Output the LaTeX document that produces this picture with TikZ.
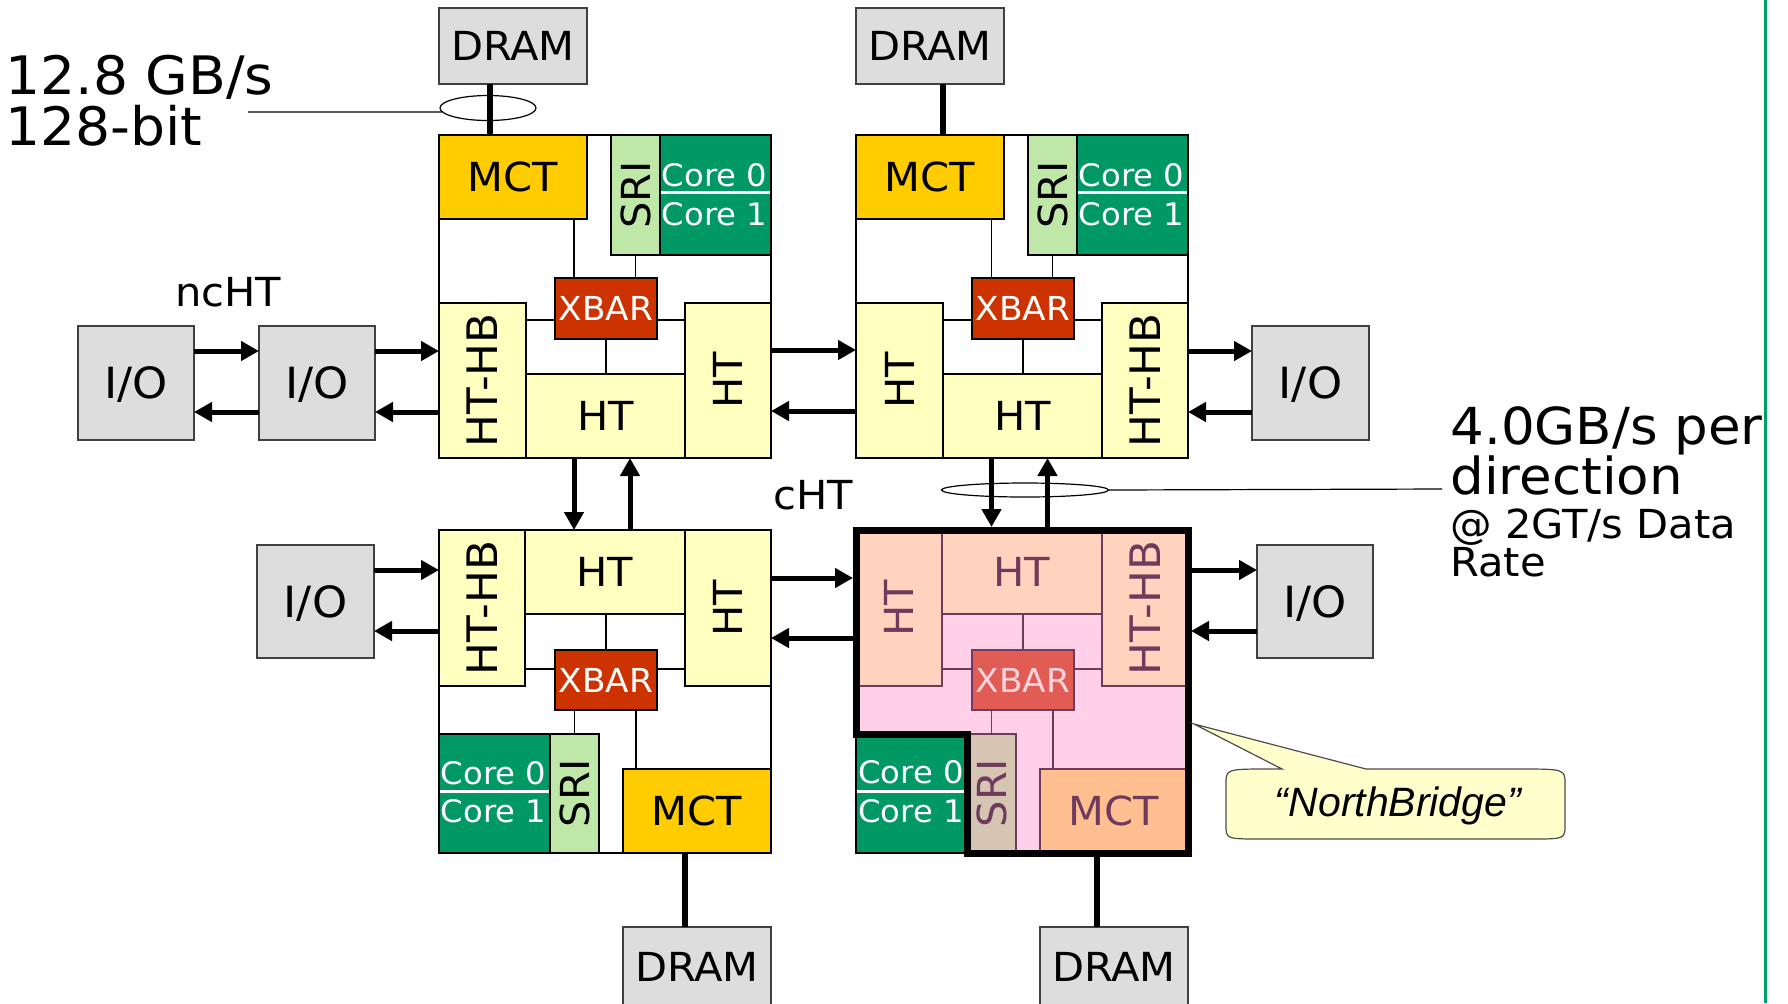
\documentclass[tikz,border=0pt]{standalone}
\usepackage{fontspec}
\usepackage{graphicx}
\setmainfont{DejaVu Sans}[FakeStretch=1.04]
\newfontfamily\arialf{Liberation Sans}
\usetikzlibrary{arrows.meta,shapes.geometric}
\definecolor{grayf}{HTML}{DDDDDD}
\definecolor{mctc}{HTML}{FFCC00}
\definecolor{sric}{HTML}{BFE8A8}
\definecolor{corec}{HTML}{009966}
\definecolor{xbarc}{HTML}{CC3300}
\definecolor{htc}{HTML}{FFFFC0}
\definecolor{nbhtc}{HTML}{FFD3BE}
\definecolor{nbbgc}{HTML}{FFD0E8}
\definecolor{nbxbarc}{HTML}{E05C55}
\definecolor{nbxtxtc}{HTML}{FFD3DC}
\definecolor{nbsric}{HTML}{D7C5B4}
\definecolor{nbmctc}{HTML}{FFBF90}
\definecolor{nblinec}{HTML}{6E3B5C}
\definecolor{callfc}{HTML}{FFFFCC}
\definecolor{greenlc}{HTML}{00A060}
\newcommand\bx[7]{\node[#2, minimum width={(#5-#3)*0.5pt}, minimum height={(#6-#4)*0.5pt}] (#1) at ({(#3+#5)/2},{(#4+#6)/2}) {#7};}
\tikzset{
 bxs/.style={draw, line width=0.75pt, inner sep=0pt, outer sep=0pt},
 t20/.style={font=\fontsize{20}{24}\selectfont, text height=14.6pt, text depth=0pt},
 t21/.style={font=\fontsize{21.5}{25}\selectfont, text height=15.7pt, text depth=0pt},
 tx/.style={font=\fontsize{16.5}{20}\selectfont, text height=12pt, text depth=0pt},
 r20/.style={font=\fontsize{20}{24}\selectfont},
 r21/.style={font=\fontsize{21}{25}\selectfont},
 gbox/.style={bxs, draw=black!75, fill=grayf},
 mctbox/.style={bxs, fill=mctc, t20},
 sribox/.style={bxs, fill=sric, r20},
 corebox/.style={bxs, fill=corec},
 xbarbox/.style={bxs, fill=xbarc, text=white, tx},
 htvbox/.style={bxs, fill=htc, r20},
 hthbox/.style={bxs, fill=htc, t20},
 nbhtv/.style={bxs, draw=nblinec, fill=nbhtc, text=nblinec, r20},
 nbhth/.style={bxs, draw=nblinec, fill=nbhtc, text=nblinec, t20},
 nbxbar/.style={bxs, draw=nblinec, fill=nbxbarc, text=nbxtxtc, tx},
 nbsri/.style={bxs, draw=nblinec, fill=nbsric, text=nblinec, r20},
 nbmct/.style={bxs, draw=nblinec, fill=nbmctc, text=nblinec, t20},
 thinl/.style={line width=0.6pt},
 nbl/.style={line width=0.6pt, draw=nblinec},
 conn/.style={line width=3pt},
 arr/.style={line width=2.5pt, -{Triangle[length=9pt,width=9.5pt]}},
 coretxt/.style={text=white, font=\fontsize{15.5}{19}\selectfont, inner sep=0pt, anchor=base west},
 wline/.style={draw=white, line width=1.6pt, shorten <=0.4pt, shorten >=0.4pt},
 bigt/.style={font=\fontsize{26.5}{30}\selectfont, inner sep=0pt, anchor=base west},
 bigs/.style={font=\fontsize{25.5}{30}\selectfont, inner sep=0pt, anchor=base west},
 midt/.style={font=\fontsize{20}{24}\selectfont, inner sep=0pt, anchor=base west},
 ell/.style={draw, ellipse, line width=0.6pt, inner sep=0pt},
}
\begin{document}
\begin{tikzpicture}[x=0.5pt,y=-0.5pt]
\useasboundingbox (0,0) rectangle (1788,1003);
\clip (0,0) rectangle (1788,1003);
% NorthBridge background
\fill[nbbgc] (856,530) -- (1188,530) -- (1188,853) -- (967,853) -- (967,734) -- (856,734) -- cycle;
% DRAM and I/O
\bx{dramA}{gbox,t20}{439}{8}{587}{84}{DRAM}
\bx{dramB}{gbox,t20}{856}{8}{1004}{84}{DRAM}
\bx{dramC}{gbox,t20}{623}{927}{771}{1006}{DRAM}
\bx{dramD}{gbox,t20}{1040}{927}{1188}{1006}{DRAM}
\bx{io1}{gbox,t21}{78}{326}{194}{440}{I/O}
\bx{io2}{gbox,t21}{259}{326}{375}{440}{I/O}
\bx{io3}{gbox,t21}{1252}{326}{1369}{440}{I/O}
\bx{io4}{gbox,t21}{257}{545}{374}{658}{I/O}
\bx{io5}{gbox,t21}{1257}{545}{1373}{658}{I/O}
% Chip A
\bx{A-mct}{mctbox}{439}{135}{587}{219}{MCT}
\bx{A-sri}{sribox}{611}{135}{660}{255}{\rotatebox{90}{SRI}}
\bx{A-core}{corebox}{660}{135}{771}{255}{}
\bx{A-xbar}{xbarbox}{555}{278}{657}{339}{XBAR}
\bx{A-hthb}{htvbox,r21}{439}{303}{526}{458}{\rotatebox{90}{HT-HB}}
\bx{A-htb}{hthbox}{526}{374}{685}{458}{HT}
\bx{A-htr}{htvbox}{685}{303}{771}{458}{\rotatebox{90}{HT}}
\draw[thinl] (A-mct.south west) -- (A-hthb.north west);
\draw[thinl] (A-core.south east) -- (A-htr.north east);
\draw[thinl] (A-mct.north east) -- (A-sri.north west);
\coordinate (A-m) at ([xshift=9.5pt]A-xbar.north west);
\draw[thinl] (A-m) -- (A-m |- A-mct.south);
\draw[thinl] (A-sri.south) -- (A-sri.south |- A-xbar.north);
\draw[thinl] (A-xbar.south) -- (A-xbar.south |- A-htb.north);
\coordinate (A-xl) at ([yshift=-5.75pt]A-xbar.west);
\coordinate (A-xr) at ([yshift=-5.75pt]A-xbar.east);
\draw[thinl] (A-xl) -- (A-xl -| A-hthb.east);
\draw[thinl] (A-xr) -- (A-xr -| A-htr.west);
\coordinate (A-wl) at ([yshift=1.1pt]A-core.west);
\draw[wline] (A-wl) -- (A-wl -| A-core.east);
\node[coretxt] (A-c0) at (661.5,186.5) {Core 0};
\node[coretxt] (A-c1) at (661.5,225) {Core 1};
% Chip B
\bx{B-mct}{mctbox}{856}{135}{1004}{219}{MCT}
\bx{B-sri}{sribox}{1028}{135}{1077}{255}{\rotatebox{90}{SRI}}
\bx{B-core}{corebox}{1077}{135}{1188}{255}{}
\bx{B-xbar}{xbarbox}{972}{278}{1074}{339}{XBAR}
\bx{B-htl}{htvbox}{856}{303}{943}{458}{\rotatebox{90}{HT}}
\bx{B-htb}{hthbox}{943}{374}{1102}{458}{HT}
\bx{B-hthb}{htvbox,r21}{1102}{303}{1188}{458}{\rotatebox{90}{HT-HB}}
\draw[thinl] (B-mct.south west) -- (B-htl.north west);
\draw[thinl] (B-core.south east) -- (B-hthb.north east);
\draw[thinl] (B-mct.north east) -- (B-sri.north west);
\coordinate (B-m) at ([xshift=9.75pt]B-xbar.north west);
\draw[thinl] (B-m) -- (B-m |- B-mct.south);
\draw[thinl] (B-sri.south) -- (B-sri.south |- B-xbar.north);
\draw[thinl] (B-xbar.south) -- (B-xbar.south |- B-htb.north);
\coordinate (B-xl) at ([yshift=-5.75pt]B-xbar.west);
\coordinate (B-xr) at ([yshift=-5.75pt]B-xbar.east);
\draw[thinl] (B-xl) -- (B-xl -| B-htl.east);
\draw[thinl] (B-xr) -- (B-xr -| B-hthb.west);
\coordinate (B-wl) at ([yshift=1.1pt]B-core.west);
\draw[wline] (B-wl) -- (B-wl -| B-core.east);
\node[coretxt] (B-c0) at (1078.5,186.5) {Core 0};
\node[coretxt] (B-c1) at (1078.5,225) {Core 1};
% Chip C
\bx{C-hthb}{htvbox,r21}{439}{530}{525}{686}{\rotatebox{90}{HT-HB}}
\bx{C-htt}{hthbox}{525}{530}{685}{614}{HT}
\bx{C-htr}{htvbox}{685}{530}{771}{686}{\rotatebox{90}{HT}}
\bx{C-xbar}{xbarbox}{555}{650}{657}{710}{XBAR}
\bx{C-core}{corebox}{439}{734}{550}{853}{}
\bx{C-sri}{sribox}{550}{734}{599}{853}{\rotatebox{90}{SRI}}
\bx{C-mct}{mctbox}{623}{769}{771}{853}{MCT}
\draw[thinl] (C-hthb.south west) -- (C-core.north west);
\draw[thinl] (C-htr.south east) -- (C-mct.north east);
\draw[thinl] (C-sri.south east) -- (C-mct.south west);
\draw[thinl] (C-xbar.north) -- (C-xbar.north |- C-htt.south);
\coordinate (C-xl) at ([yshift=5.5pt]C-xbar.west);
\coordinate (C-xr) at ([yshift=5.5pt]C-xbar.east);
\draw[thinl] (C-xl) -- (C-xl -| C-hthb.east);
\draw[thinl] (C-xr) -- (C-xr -| C-htr.west);
\draw[thinl] (C-sri.north) -- (C-sri.north |- C-xbar.south);
\coordinate (C-m) at ([xshift=40.5pt]C-xbar.south west);
\draw[thinl] (C-m) -- (C-m |- C-mct.north);
\coordinate (C-wl) at ([yshift=0.9pt]C-core.west);
\draw[wline] (C-wl) -- (C-wl -| C-core.east);
\node[coretxt] (C-c0) at (440.5,784) {Core 0};
\node[coretxt] (C-c1) at (440.5,822.5) {Core 1};
% Chip D (NorthBridge)
\bx{D-htl}{nbhtv}{856}{530}{942}{686}{\rotatebox{90}{HT}}
\bx{D-htt}{nbhth}{942}{530}{1102}{614}{HT}
\bx{D-hthb}{nbhtv,r21}{1102}{530}{1188}{686}{\rotatebox{90}{HT-HB}}
\bx{D-xbar}{nbxbar}{972}{650}{1074}{710}{XBAR}
\bx{D-core}{corebox}{856}{734}{967}{853}{}
\bx{D-sri}{nbsri}{967}{734}{1016}{853}{\rotatebox{90}{SRI}}
\bx{D-mct}{nbmct}{1040}{769}{1188}{853}{MCT}
\draw[nbl] (D-xbar.north) -- (D-xbar.north |- D-htt.south);
\coordinate (D-xl) at ([yshift=5.5pt]D-xbar.west);
\coordinate (D-xr) at ([yshift=5.5pt]D-xbar.east);
\draw[nbl] (D-xl) -- (D-xl -| D-htl.east);
\draw[nbl] (D-xr) -- (D-xr -| D-hthb.west);
\draw[nbl] (D-sri.north) -- (D-sri.north |- D-xbar.south);
\coordinate (D-m) at ([xshift=40.5pt]D-xbar.south west);
\draw[nbl] (D-m) -- (D-m |- D-mct.north);
\coordinate (D-wl) at ([yshift=0.9pt]D-core.west);
\draw[wline] (D-wl) -- (D-wl -| D-core.east);
\node[coretxt] (D-c0) at (858,783.5) {Core 0};
\node[coretxt] (D-c1) at (858,822) {Core 1};
\draw[line width=3.5pt, line join=miter] (D-htl.north west) -- (D-hthb.north east) -- (D-mct.south east) -- (D-sri.south west) -- (D-sri.north west) -- (D-core.north west) -- cycle;
% DRAM connectors
\coordinate (dA) at ([xshift=-11.5pt]dramA.south);
\draw[conn] (dA) -- (dA |- A-mct.north);
\coordinate (dB) at ([xshift=6.5pt]dramB.south);
\draw[conn] (dB) -- (dB |- B-mct.north);
\coordinate (dC) at ([xshift=-6pt]dramC.north);
\draw[conn] (C-mct.south -| dC) -- (dC);
\coordinate (dD) at ([xshift=-8.5pt]dramD.north);
\draw[conn] (D-mct.south -| dD) -- (dD);
% horizontal arrows
\coordinate (yu1) at (0,351); \coordinate (yd1) at (0,412);
\coordinate (yu2) at (0,350); \coordinate (yd2) at (0,411);
\coordinate (yu3) at (0,570); \coordinate (yd3) at (0,631);
\coordinate (yu4) at (0,578); \coordinate (yd4) at (0,638);
\draw[arr] (io1.east |- yu1) -- (io2.west |- yu1);
\draw[arr] (io2.west |- yd1) -- (io1.east |- yd1);
\draw[arr] (io2.east |- yu1) -- (A-hthb.west |- yu1);
\draw[arr] (A-hthb.west |- yd1) -- (io2.east |- yd1);
\draw[arr] (A-htr.east |- yu2) -- (B-htl.west |- yu2);
\draw[arr] (B-htl.west |- yd2) -- (A-htr.east |- yd2);
\draw[arr] (B-hthb.east |- yu1) -- (io3.west |- yu1);
\draw[arr] (io3.west |- yd1) -- (B-hthb.east |- yd1);
\draw[arr] (io4.east |- yu3) -- (C-hthb.west |- yu3);
\draw[arr] (C-hthb.west |- yd3) -- (io4.east |- yd3);
\draw[arr] (C-htr.east |- yu4) -- ([xshift=-1.5pt]D-htl.west |- yu4);
\draw[arr] (D-htl.west |- yd4) -- (C-htr.east |- yd4);
\draw[arr] ([xshift=1.5pt]D-hthb.east |- yu3) -- (io5.west |- yu3);
\draw[arr] (io5.west |- yd3) -- ([xshift=1.5pt]D-hthb.east |- yd3);
% vertical arrows
\coordinate (vx1) at (574,0); \coordinate (vx2) at (630,0);
\coordinate (vx3) at (991.5,0); \coordinate (vx4) at (1047.5,0);
\draw[arr] (A-htb.south -| vx1) -- (C-htt.north -| vx1);
\draw[arr] (C-htt.north -| vx2) -- (A-htb.south -| vx2);
\draw[arr] (B-htb.south -| vx3) -- ([yshift=1.5pt]D-htt.north -| vx3);
\draw[arr] ([yshift=1.5pt]D-htt.north -| vx4) -- (B-htb.south -| vx4);
% annotations
\node[ell, minimum width=48pt, minimum height=12.5pt] (ellA) at (488,108) {};
\coordinate (lA) at (248,112);
\draw[thinl] (lA) -- (ellA.185);
\node[ell, minimum width=83.5pt, minimum height=7pt] (ellD) at (1025,490) {};
\coordinate (lD) at (1442,489);
\draw[thinl] (ellD.east) -- (lD);
\node[bigt] (t1) at (5,94) {12.8 GB/s};
\node[bigt] (t2) at (5,145) {128-bit};
\node[bigs] (t3) at (1450,444) {4.0GB/s per};
\node[bigs] (t4) at (1450,494) {direction};
\node[midt] (t5) at (1450,538) {@ 2GT/s Data};
\node[midt] (t6) at (1450,576) {Rate};
\node[midt] (t7) at (175,306) {ncHT};
\node[midt] (t8) at (773,509) {cHT};
% callout
\draw[draw=black!70, fill=callfc, line width=0.6pt] (1282,769) -- (1194,724) -- (1366,769) -- (1518,769) .. controls (1565,769) .. (1565,784) -- (1565,825) .. controls (1565,839) .. (1530,839) -- (1262,839) .. controls (1226,839) .. (1226,825) -- (1226,784) .. controls (1226,769) .. (1270,769) -- cycle;
\node[font=\arialf\itshape\fontsize{20.5}{24}\selectfont, inner sep=0pt] (nb) at (1398,806) {“NorthBridge”};
% green rule
\draw[greenlc, line width=1.5pt] (1765,0) -- (1765,1003);
\end{tikzpicture}
\end{document}
